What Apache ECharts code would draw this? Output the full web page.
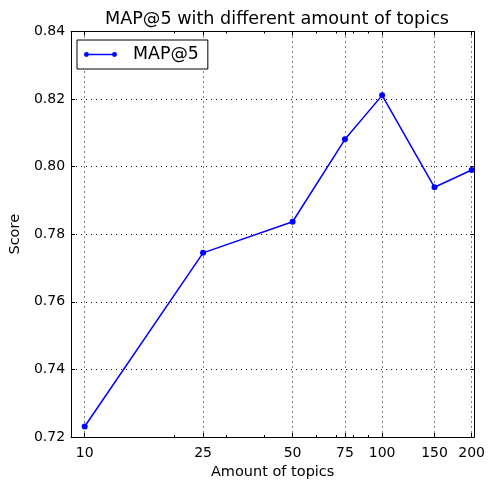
<!DOCTYPE html>
<html>
<head>
<meta charset="utf-8">
<script src="https://cdn.jsdelivr.net/npm/echarts@6/dist/echarts.min.js"></script>
<style>html,body{margin:0;padding:0;background:#fff}#c{width:488px;height:485px}</style>
</head>
<body>
<div id="c"></div>
<script>
const topics = [10, 25, 50, 75, 100, 150, 200];
const map5 = [0.7231, 0.7745, 0.7837, 0.8081, 0.8211, 0.7939, 0.7990];
const xTicks = [10, 25, 50, 75, 100, 150, 200];
const xMinorTicks = [20, 30, 40, 60, 70, 80, 90];
const yTicks = [0.72, 0.74, 0.76, 0.78, 0.80, 0.82, 0.84];

const FONT = 'DejaVu Sans';
const chart = echarts.init(document.getElementById('c'), null, {renderer: 'canvas'});
const black = '#000';
const dotted = {show: true, lineStyle: {color: black, width: 1, type: [1, 4]}};

function xAx(pos, extra) {
  return Object.assign({
    type: 'log', logBase: 10, min: 9, max: 204, position: pos,
    axisLine: {show: true, onZero: false, lineStyle: {color: black, width: 1}},
    axisTick: {show: true, inside: true, length: 4, customValues: xTicks, lineStyle: {color: black}},
    axisLabel: {show: false, customValues: xTicks},
    splitLine: {show: false},
    minorTick: {show: false}
  }, extra || {});
}

const option = {
  animation: false,
  backgroundColor: '#fff',
  title: {
    text: 'MAP@5 with different amount of topics',
    left: 272, top: 5, textAlign: 'center',
    textStyle: {fontFamily: FONT, fontSize: 17.6, fontWeight: 'normal', color: black}
  },
  legend: {
    left: 77, top: 40,
    padding: [6, 9, 6, 7],
    borderColor: black, borderWidth: 1, borderRadius: 0,
    backgroundColor: '#fff',
    itemWidth: 33, itemHeight: 5,
    icon: 'path://M0,2.5 A2.5,2.5 0 1,1 5,2.5 A2.5,2.5 0 1,1 0,2.5 Z M2.5,1.8 L30.8,1.8 L30.8,3.2 L2.5,3.2 Z M28.3,2.5 A2.5,2.5 0 1,1 33.3,2.5 A2.5,2.5 0 1,1 28.3,2.5 Z',
    textStyle: {fontFamily: FONT, fontSize: 17.4, color: black, padding: [0, 0, 0, 11]},
    data: ['MAP@5']
  },
  grid: {left: 67.5, right: 11, top: 31.5, bottom: 47.5, containLabel: false},
  xAxis: [
    xAx('bottom', {
      axisLabel: {show: true, customValues: xTicks, margin: 9, fontFamily: FONT, fontSize: 14, color: black,
                  formatter: v => String(Math.round(v))},
      splitLine: dotted,
      name: 'Amount of topics', nameLocation: 'middle', nameGap: 28,
      nameTextStyle: {fontFamily: FONT, fontSize: 14.5, color: black}
    }),
    xAx('top'),
    xAx('bottom', {axisLine: {show: false}, axisTick: {show: true, inside: true, length: 2, customValues: xMinorTicks, lineStyle: {color: black}}, axisLabel: {show: false, customValues: xMinorTicks}}),
    xAx('top', {axisLine: {show: false}, axisTick: {show: true, inside: true, length: 2, customValues: xMinorTicks, lineStyle: {color: black}}, axisLabel: {show: false, customValues: xMinorTicks}})
  ],
  yAxis: [
    {
      type: 'value', min: 0.72, max: 0.84, interval: 0.02, position: 'left',
      axisLine: {show: true, onZero: false, lineStyle: {color: black}},
      axisTick: {show: true, inside: true, length: 4, lineStyle: {color: black}},
      axisLabel: {margin: 6, fontFamily: FONT, fontSize: 14, color: black, formatter: v => v.toFixed(2)},
      splitLine: dotted,
      name: 'Score', nameLocation: 'middle', nameGap: 46,
      nameTextStyle: {fontFamily: FONT, fontSize: 14.5, color: black}
    },
    {
      type: 'value', min: 0.72, max: 0.84, interval: 0.02, position: 'right',
      axisLine: {show: true, onZero: false, lineStyle: {color: black}},
      axisTick: {show: true, inside: true, length: 4, lineStyle: {color: black}},
      axisLabel: {show: false},
      splitLine: {show: false}
    }
  ],
  series: [{
    name: 'MAP@5', type: 'line',
    xAxisIndex: 0, yAxisIndex: 0,
    data: topics.map((t, i) => [t, map5[i]]),
    symbol: 'circle', symbolSize: 6,
    lineStyle: {color: '#0000ff', width: 1.5},
    itemStyle: {color: '#0000ff'},
    clip: false
  }]
};
chart.setOption(option);
</script>
</body>
</html>
